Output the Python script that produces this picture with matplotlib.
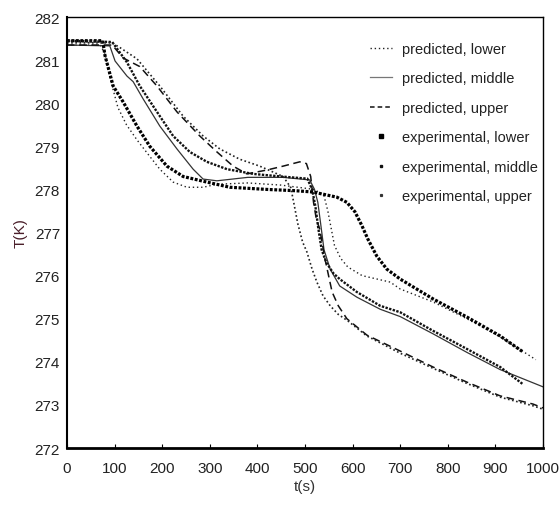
import matplotlib
matplotlib.use('Agg')
import matplotlib.pyplot as plt
from matplotlib.lines import Line2D

plt.rcParams['font.family'] = ['Liberation Sans', 'DejaVu Sans']

# Temperature histories: t in s, T in K
t_pred_lower = [0, 70, 80, 90, 107, 125, 147, 168, 195, 223, 252, 286, 315, 380, 450, 520,
                540, 548, 555, 562, 575, 590, 620, 679, 700, 769, 840, 910, 985]
T_pred_lower = [281.35, 281.35, 281.15, 280.6, 279.9, 279.5, 279.15, 278.85, 278.47, 278.17,
                278.05, 278.05, 278.12, 278.15, 278.1, 278.0, 277.85, 277.5, 277.1, 276.7,
                276.4, 276.2, 276.0, 275.85, 275.69, 275.39, 275.0, 274.58, 274.05]

t_pred_middle = [0, 90, 101, 126, 139, 160, 195, 231, 265, 286, 315, 380, 454, 510, 520, 527,
                 533, 540, 553, 573, 609, 658, 700, 769, 840, 910, 1000]
T_pred_middle = [281.35, 281.33, 280.98, 280.63, 280.5, 280.1, 279.47, 278.94, 278.47, 278.24,
                 278.2, 278.28, 278.28, 278.22, 278.0, 277.7, 277.2, 276.6, 276.15, 275.76,
                 275.5, 275.22, 275.05, 274.65, 274.22, 273.82, 273.42]

t_pred_upper = [0, 95, 118, 153, 189, 231, 279, 315, 349, 378, 420, 454, 489, 503, 512, 518,
                524, 531, 542, 548, 557, 570, 588, 630, 700, 769, 840, 910, 979, 1000]
T_pred_upper = [281.35, 281.35, 281.05, 280.85, 280.4, 279.8, 279.24, 278.87, 278.54, 278.36,
                278.45, 278.54, 278.64, 278.6, 278.3, 277.7, 277.3, 277.08, 276.39, 276.08,
                275.62, 275.3, 275.0, 274.62, 274.25, 273.88, 273.53, 273.21, 273.02, 272.93]

t_exp_lower = [0, 75, 80, 97, 118, 147, 174, 210, 244, 286, 342, 420, 480, 517, 567, 588, 605,
               620, 632, 651, 672, 700, 769, 840, 910, 958]
T_exp_lower = [281.45, 281.45, 281.1, 280.4, 280.03, 279.47, 279.0, 278.54, 278.3, 278.19,
               278.05, 278.0, 277.97, 277.94, 277.82, 277.7, 277.48, 277.15, 276.85, 276.45,
               276.15, 275.92, 275.46, 275.04, 274.6, 274.23]

t_exp_middle = [0, 95, 126, 153, 189, 223, 258, 294, 336, 391, 450, 505, 515, 522, 528, 535,
                545, 560, 573, 609, 658, 700, 769, 840, 910, 958]
T_exp_middle = [281.45, 281.42, 280.95, 280.4, 279.8, 279.24, 278.87, 278.64, 278.47, 278.36,
                278.3, 278.25, 278.0, 277.6, 277.1, 276.6, 276.3, 276.05, 275.92, 275.62,
                275.3, 275.15, 274.72, 274.3, 273.88, 273.48]

t_exp_upper = [0, 95, 110, 147, 195, 244, 286, 321, 363, 405, 454, 470, 477, 485, 495, 504,
               515, 525, 538, 553, 570, 590, 630, 700, 769, 840, 910, 979, 1000]
T_exp_upper = [281.4, 281.4, 281.3, 281.03, 280.4, 279.7, 279.24, 278.94, 278.7, 278.54, 278.3,
               278.05, 277.66, 277.2, 276.78, 276.55, 276.15, 275.85, 275.53, 275.3, 275.1,
               274.95, 274.6, 274.2, 273.85, 273.5, 273.18, 272.98, 272.9]

labels = ['predicted, lower', 'predicted, middle', 'predicted, upper',
          'experimental, lower', 'experimental, middle', 'experimental, upper']

fig = plt.figure(figsize=(5.6, 5.06), dpi=100)
ax = fig.add_axes([0.1196, 0.1126, 0.85, 0.8518])

ax.plot(t_pred_lower, T_pred_lower, color='#222', lw=1.0, ls=(0, (1, 2)))
ax.plot(t_pred_middle, T_pred_middle, color='#333', lw=0.9, ls='-')
ax.plot(t_pred_upper, T_pred_upper, color='#111', lw=1.1, ls=(0, (5, 3)))
ax.plot(t_exp_lower, T_exp_lower, color='#000', lw=2.3, ls=(0, (0.9, 0.5)))
ax.plot(t_exp_middle, T_exp_middle, color='#111', lw=1.7, ls=(0, (1, 0.6)))
ax.plot(t_exp_upper, T_exp_upper, color='#222', lw=1.2, ls=(0, (1, 1.5)))

ax.set_xlim(0, 1000)
ax.set_ylim(272, 282)
ax.set_xticks(range(0, 1001, 100))
ax.set_yticks(range(272, 283))

ax.tick_params(axis='x', direction='in', length=3, pad=9, labelsize=11, labelcolor='#222')
ax.tick_params(axis='y', direction='in', length=0, pad=5, labelsize=11, labelcolor='#222')
for side in ['left', 'right', 'top']:
    ax.spines[side].set_linewidth(1.0)
ax.spines['bottom'].set_linewidth(2.0)
ax.spines['left'].set_linewidth(1.5)

ax.set_xlabel('t(s)', fontsize=11, color='#333', labelpad=3)
ax.set_ylabel('T(K)', fontsize=11, color='#4a1f2a', labelpad=5)

handles = [
    Line2D([], [], color='#222', lw=1.0, ls=(0, (1, 2))),
    Line2D([], [], color='#777', lw=0.9, ls='-'),
    Line2D([], [], color='#111', lw=1.1, ls=(0, (3, 2))),
    Line2D([], [], ls='none', marker='s', markersize=2.8, color='#000'),
    Line2D([], [], ls='none', marker='s', markersize=2.0, color='#111'),
    Line2D([], [], ls='none', marker='s', markersize=1.3, color='#333'),
]
ax.legend(handles, labels, loc='upper left', bbox_to_anchor=(0.636, 0.942), frameon=False,
          fontsize=10.5, handlelength=1.5, handletextpad=0.7, labelspacing=1.06,
          borderpad=0, borderaxespad=0, labelcolor='#222')

fig.savefig('out.png', dpi=100)
